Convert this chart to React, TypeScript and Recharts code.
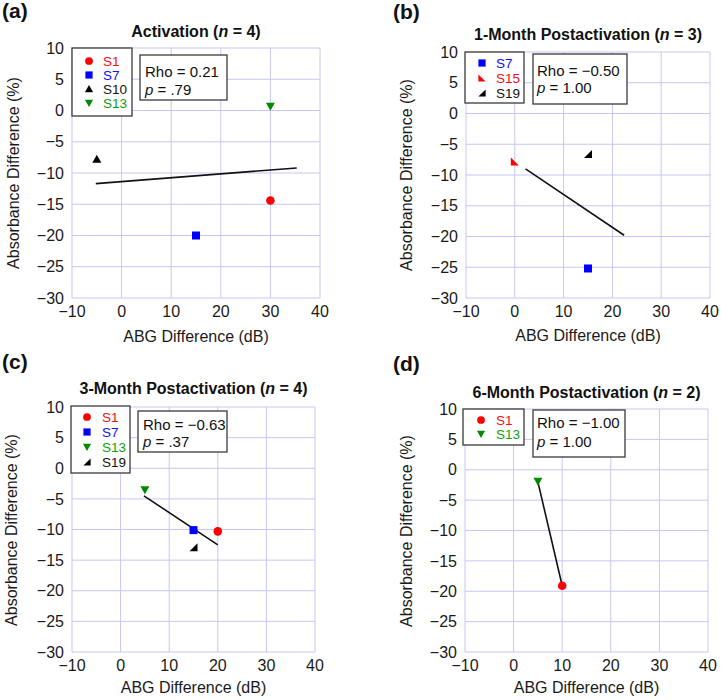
import React from 'react';
import { ScatterChart, Scatter, XAxis, YAxis, CartesianGrid } from 'recharts';

// ---------- data ----------
const xTicks = [-10, 0, 10, 20, 30, 40];
const yTicks = [-30, -25, -20, -15, -10, -5, 0, 5, 10];

const activationSubjects = ['S1', 'S7', 'S10', 'S13'];
const activationABG = [30, 15, -5, 30];
const activationAbs = [-14.4, -20, -7.8, 0.7];
const activationFitABG = [-5.2, 35.3];
const activationFitAbs = [-11.7, -9.2];
const activationStats = ['0.21', '.79'];

const month1Subjects = ['S7', 'S15', 'S19'];
const month1ABG = [15, 0, 15];
const month1Abs = [-25.2, -7.8, -6.6];
const month1FitABG = [2.2, 22.4];
const month1FitAbs = [-9.0, -19.8];
const month1Stats = ['\u22120.50', '1.00'];

const month3Subjects = ['S1', 'S7', 'S13', 'S19'];
const month3ABG = [20, 15, 5, 15];
const month3Abs = [-10.3, -10.1, -3.5, -12.9];
const month3FitABG = [4.8, 20];
const month3FitAbs = [-4.5, -12.5];
const month3Stats = ['\u22120.63', '.37'];

const month6Subjects = ['S1', 'S13'];
const month6ABG = [10, 5];
const month6Abs = [-19.1, -1.9];
const month6FitABG = [5, 10];
const month6FitAbs = [-2, -19.1];
const month6Stats = ['\u22121.00', '1.00'];

// ---------- styles ----------
const FONT = '"Liberation Sans", Arial, Helvetica, sans-serif';
const GRID = '#c6c6f6';

const subjectStyle: Record<string, { color: string; text: string; kind: string }> = {
  S1: { color: '#ff0000', text: '#f01020', kind: 'circle' },
  S7: { color: '#0000ff', text: '#1010f0', kind: 'square' },
  S10: { color: '#000000', text: '#111111', kind: 'triangle' },
  S13: { color: '#008a00', text: '#10a010', kind: 'down' },
  S15: { color: '#ff0000', text: '#f01020', kind: 'cornerLeft' },
  S19: { color: '#000000', text: '#111111', kind: 'cornerRight' },
};

function Marker({ kind, color, cx, cy, s = 1 }: { kind: string; color: string; cx: number; cy: number; s?: number }) {
  if (cx == null || cy == null) return <g />;
  const a = 4.3 * s;
  switch (kind) {
    case 'circle':
      return <circle cx={cx} cy={cy} r={a} fill={color} />;
    case 'square':
      return <rect x={cx - 4 * s} y={cy - 4 * s} width={8 * s} height={8 * s} fill={color} />;
    case 'triangle':
      return <polygon points={`${cx},${cy - 4.5 * s} ${cx + 4.5 * s},${cy + 3.5 * s} ${cx - 4.5 * s},${cy + 3.5 * s}`} fill={color} />;
    case 'down':
      return <polygon points={`${cx - 4.5 * s},${cy - 3.5 * s} ${cx + 4.5 * s},${cy - 3.5 * s} ${cx},${cy + 4.5 * s}`} fill={color} />;
    case 'cornerLeft':
      return <polygon points={`${cx - 4 * s},${cy - 4 * s} ${cx - 4 * s},${cy + 4 * s} ${cx + 4 * s},${cy + 4 * s}`} fill={color} />;
    case 'cornerRight':
      return <polygon points={`${cx + 4 * s},${cy - 4 * s} ${cx + 4 * s},${cy + 4 * s} ${cx - 4 * s},${cy + 4 * s}`} fill={color} />;
    default:
      return <g />;
  }
}

const fmt = (v: number) => (v < 0 ? '\u2212' + Math.abs(v) : String(v));

type Layout = {
  left: number;
  top: number;
  margin: { top: number; right: number; bottom: number; left: number };
  label: string;
  labelPos: [number, number];
  titleMain: string;
  titleN: string;
  titleY: number;
  yLabelPos: [number, number];
  xLabelY: number;
  legendBox: [number, number, number, number];
  legendMarkerX: number;
  legendTextX: number;
  legendRows: number[];
  rhoBox: [number, number, number, number];
  rhoTextX: number;
  rhoRows: [number, number];
};

function Panel({
  layout,
  subjects,
  xs,
  ys,
  fitX,
  fitY,
  stats,
}: {
  layout: Layout;
  subjects: string[];
  xs: number[];
  ys: number[];
  fitX: number[];
  fitY: number[];
  stats: string[];
}) {
  const W = 360;
  const H = 350;
  const m = layout.margin;
  const plotL = m.left + 60;
  const plotR = W - m.right;
  const cxPlot = (plotL + plotR) / 2;
  const fitData = fitX.map((x, i) => ({ x, y: fitY[i] }));
  const [lx, ly, lw, lh] = layout.legendBox;
  const [rx, ry, rw, rh] = layout.rhoBox;
  return (
    <div style={{ position: 'absolute', left: layout.left, top: layout.top, width: W, height: H }}>
      <ScatterChart width={W} height={H} margin={m}>
        <CartesianGrid stroke={GRID} strokeWidth={1} horizontalValues={yTicks} verticalValues={xTicks} />
        <XAxis
          type="number"
          dataKey="x"
          domain={[-10, 40]}
          ticks={xTicks}
          interval={0}
          height={30}
          axisLine={false}
          tickLine={false}
          tickFormatter={fmt}
          allowDataOverflow
          tick={{ fontSize: 16, fill: '#1a1a1a', fontFamily: FONT }}
        />
        <YAxis
          type="number"
          dataKey="y"
          domain={[-30, 10]}
          ticks={yTicks}
          interval={0}
          width={60}
          axisLine={false}
          tickLine={false}
          tickFormatter={fmt}
          allowDataOverflow
          tick={{ fontSize: 16, fill: '#1a1a1a', fontFamily: FONT }}
        />
        <Scatter
          data={fitData}
          line={{ stroke: '#111111', strokeWidth: 1.6 }}
          shape={() => <g />}
          isAnimationActive={false}
        />
        {subjects.map((s, i) => {
          const st = subjectStyle[s];
          return (
            <Scatter
              key={s}
              name={s}
              data={[{ x: xs[i], y: ys[i] }]}
              isAnimationActive={false}
              shape={(p: any) => <Marker kind={st.kind} color={st.color} cx={p.cx} cy={p.cy} />}
            />
          );
        })}
      </ScatterChart>
      <svg
        width={W}
        height={H}
        style={{ position: 'absolute', left: 0, top: 0, pointerEvents: 'none' }}
        fontFamily={FONT}
      >
        <text x={layout.labelPos[0]} y={layout.labelPos[1]} fontSize={21} fontWeight="bold" fill="#111">
          {layout.label}
        </text>
        <text x={cxPlot} y={layout.titleY} textAnchor="middle" fontSize={16} fontWeight="bold" fill="#111">
          {layout.titleMain}(<tspan fontStyle="italic">n</tspan> = {layout.titleN})
        </text>
        <text
          x={layout.yLabelPos[0]}
          y={layout.yLabelPos[1]}
          textAnchor="middle"
          fontSize={16}
          fill="#1a1a1a"
          transform={`rotate(-90 ${layout.yLabelPos[0]} ${layout.yLabelPos[1]})`}
        >
          Absorbance Difference (%)
        </text>
        <text x={cxPlot} y={layout.xLabelY} textAnchor="middle" fontSize={16} fill="#1a1a1a">
          ABG Difference (dB)
        </text>
        <rect x={lx} y={ly} width={lw} height={lh} fill="#ffffff" stroke="#3a3a3a" strokeWidth={1.3} />
        {subjects.map((s, i) => {
          const st = subjectStyle[s];
          const yy = layout.legendRows[i];
          return (
            <g key={s}>
              <Marker kind={st.kind} color={st.color} cx={layout.legendMarkerX} cy={yy} s={0.9} />
              <text x={layout.legendTextX} y={yy + 5} fontSize={13.5} fill={st.text}>
                {s}
              </text>
            </g>
          );
        })}
        <rect x={rx} y={ry} width={rw} height={rh} fill="#ffffff" stroke="#3a3a3a" strokeWidth={1.3} />
        <text x={layout.rhoTextX} y={layout.rhoRows[0]} fontSize={15} fill="#111">
          Rho = {stats[0]}
        </text>
        <text x={layout.rhoTextX} y={layout.rhoRows[1]} fontSize={15} fill="#111">
          <tspan fontStyle="italic">p</tspan> = {stats[1]}
        </text>
      </svg>
    </div>
  );
}

const layoutA: Layout = {
  left: 0,
  top: 0,
  margin: { top: 48, right: 40, bottom: 22, left: 12 },
  label: '(a)',
  labelPos: [2, 18],
  titleMain: 'Activation ',
  titleN: '4',
  titleY: 37,
  yLabelPos: [19, 173],
  xLabelY: 342,
  legendBox: [72, 48, 60, 68],
  legendMarkerX: 89,
  legendTextX: 103,
  legendRows: [61, 75, 89, 103],
  rhoBox: [140, 55, 87, 45],
  rhoTextX: 145,
  rhoRows: [77, 95],
};

const layoutB: Layout = {
  left: 360,
  top: 0,
  margin: { top: 52, right: 10, bottom: 22, left: 46 },
  label: '(b)',
  labelPos: [33, 19],
  titleMain: '1-Month Postactivation ',
  titleN: '3',
  titleY: 40,
  yLabelPos: [52, 175],
  xLabelY: 341,
  legendBox: [105, 52, 59, 51],
  legendMarkerX: 122,
  legendTextX: 136,
  legendRows: [63, 78, 93],
  rhoBox: [173, 54, 94, 50],
  rhoTextX: 177,
  rhoRows: [76, 93],
};

const layoutC: Layout = {
  left: 0,
  top: 350,
  margin: { top: 57, right: 45, bottom: 18, left: 12 },
  label: '(c)',
  labelPos: [2, 19],
  titleMain: '3-Month Postactivation ',
  titleN: '4',
  titleY: 44,
  yLabelPos: [17, 180],
  xLabelY: 343,
  legendBox: [71, 56, 59, 67],
  legendMarkerX: 87,
  legendTextX: 102,
  legendRows: [67, 82, 97, 112],
  rhoBox: [138, 61, 89, 41],
  rhoTextX: 143,
  rhoRows: [80, 97],
};

const layoutD: Layout = {
  left: 360,
  top: 350,
  margin: { top: 59, right: 12, bottom: 18, left: 45 },
  label: '(d)',
  labelPos: [33, 21],
  titleMain: '6-Month Postactivation ',
  titleN: '2',
  titleY: 48,
  yLabelPos: [52, 181],
  xLabelY: 343,
  legendBox: [103, 59, 61, 36],
  legendMarkerX: 121,
  legendTextX: 136,
  legendRows: [70, 84],
  rhoBox: [173, 60, 92, 47],
  rhoTextX: 177,
  rhoRows: [78, 97],
};

export default function App() {
  return (
    <div style={{ position: 'absolute', left: 0, top: 0, width: 721, height: 700, background: '#ffffff', fontFamily: FONT }}>
      <Panel layout={layoutA} subjects={activationSubjects} xs={activationABG} ys={activationAbs} fitX={activationFitABG} fitY={activationFitAbs} stats={activationStats} />
      <Panel layout={layoutB} subjects={month1Subjects} xs={month1ABG} ys={month1Abs} fitX={month1FitABG} fitY={month1FitAbs} stats={month1Stats} />
      <Panel layout={layoutC} subjects={month3Subjects} xs={month3ABG} ys={month3Abs} fitX={month3FitABG} fitY={month3FitAbs} stats={month3Stats} />
      <Panel layout={layoutD} subjects={month6Subjects} xs={month6ABG} ys={month6Abs} fitX={month6FitABG} fitY={month6FitAbs} stats={month6Stats} />
    </div>
  );
}
